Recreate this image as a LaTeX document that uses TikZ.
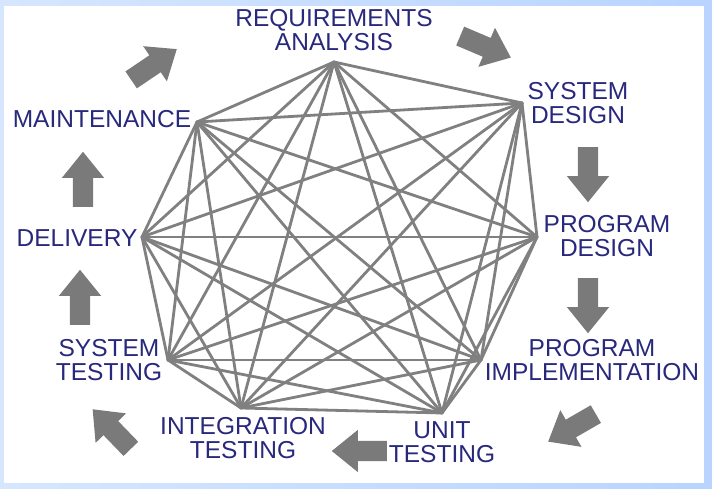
\documentclass[tikz,border=0pt]{standalone}
\usepackage{fontspec}
\setmainfont{Liberation Sans}
\usetikzlibrary{shapes.arrows}
\definecolor{txtblue}{RGB}{40,40,125}
\definecolor{edgegray}{RGB}{128,128,128}
\definecolor{arrgray}{RGB}{122,122,122}
\definecolor{bgleft}{RGB}{214,230,255}
\definecolor{bgright}{RGB}{184,212,255}
\begin{document}
\begin{tikzpicture}[x=1pt,y=1pt,
  lbl/.style={text=txtblue, font=\fontsize{24.5}{24.5}\selectfont, align=center, inner sep=0pt},
  edge/.style={draw=edgegray, line width=2.8pt, line cap=round},
  bigarrow/.style={single arrow, fill=arrgray, draw=none, inner xsep=0pt, inner ysep=10pt,
    minimum height=55pt, single arrow head extend=11pt,
    single arrow tip angle=78, anchor=tail}]
\useasboundingbox (0,0) rectangle (712,489);
\shade[left color=bgleft, right color=bgright] (0,0) rectangle (712,489);
\fill[white] (4,6) rectangle (704,483);
% vertices
\coordinate (v1) at (334,427);
\coordinate (v2) at (522,386);
\coordinate (v3) at (537,252);
\coordinate (v4) at (481,129);
\coordinate (v5) at (442,76);
\coordinate (v6) at (241,81);
\coordinate (v7) at (168,129);
\coordinate (v8) at (142,252);
\coordinate (v9) at (197,367);
\foreach \i in {1,...,8}{
  \pgfmathtruncatemacro\k{\i+1}
  \foreach \j in {\k,...,9}{
    \draw[edge] (v\i) -- (v\j);
  }
}
% labels
\node[lbl] (lra) at (334,459) {REQUIREMENTS\\ANALYSIS};
\node[lbl] (lsd) at (578,386) {SYSTEM\\DESIGN};
\node[lbl] (lpd) at (607,253) {PROGRAM\\DESIGN};
\node[lbl] (lpi) at (592,129) {PROGRAM\\IMPLEMENTATION};
\node[lbl] (lut) at (442,47) {UNIT\\TESTING};
\node[lbl] (lit) at (243,51) {INTEGRATION\\TESTING};
\node[lbl] (lst) at (109,129) {SYSTEM\\TESTING};
\node[lbl] (ldl) at (77,251) {DELIVERY};
\node[lbl] (lmt) at (102,370) {MAINTENANCE};
% block arrows
\node[bigarrow, rotate=34]  (a1) at (131,409) {};
\node[bigarrow, rotate=-23] (a2) at (460,453) {};
\node[bigarrow, rotate=-90] (a3) at (588,342) {};
\node[bigarrow, rotate=-90] (a4) at (588,211) {};
\node[bigarrow, rotate=210] (a5) at (596,75) {};
\node[bigarrow, rotate=180] (a6) at (387,38) {};
\node[bigarrow, rotate=134] (a7) at (131,40) {};
\node[bigarrow, rotate=90]  (a8) at (80,164) {};
\node[bigarrow, rotate=90]  (a9) at (83,282) {};
\end{tikzpicture}
\end{document}
